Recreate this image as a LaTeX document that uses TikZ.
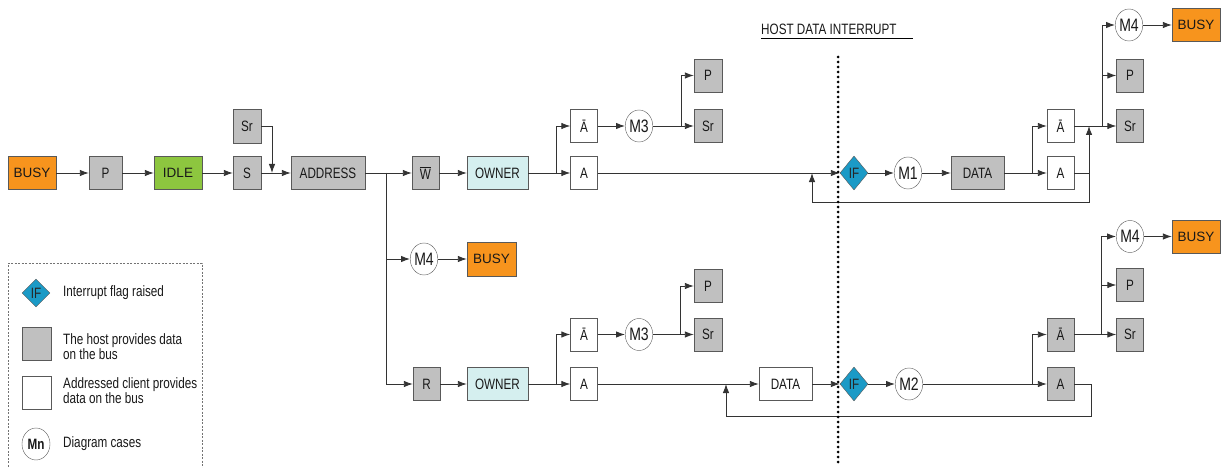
\documentclass[tikz,border=0pt]{standalone}
\usepackage{fontspec}
\setmainfont{Liberation Sans}[FakeStretch=0.78]
\newfontfamily\widefont{Liberation Sans}
\usetikzlibrary{arrows.meta,shapes.geometric}

\definecolor{busyorange}{HTML}{F7941D}
\definecolor{idlegreen}{HTML}{8DC63F}
\definecolor{hostgray}{HTML}{C0C0C0}
\definecolor{ownercyan}{HTML}{D5EFEF}
\definecolor{ifblue}{HTML}{1B9AC6}

\tikzset{
  blk/.style={draw=black!65, minimum width=27pt, minimum height=33pt, inner sep=0pt,
    text=black!90, font=\fontsize{15}{17}\selectfont},
  hostblk/.style={blk, fill=hostgray},
  clientblk/.style={blk, fill=white},
  busyblk/.style={blk, fill=busyorange, minimum width=48pt, font=\widefont\fontsize{13.5}{15}\selectfont},
  idleblk/.style={blk, fill=idlegreen, minimum width=48pt, font=\widefont\fontsize{13.5}{15}\selectfont},
  ownerblk/.style={blk, fill=ownercyan, minimum width=61pt},
  casenode/.style={ellipse, draw=black!65, fill=white, minimum width=27pt, minimum height=32pt,
    inner sep=0pt, text=black!90, font=\fontsize{18}{20}\selectfont},
  flag/.style={diamond, draw=black!65, fill=ifblue, minimum width=28pt, minimum height=34pt,
    inner sep=0pt, text=black!85, font=\fontsize{15}{17}\selectfont},
  link/.style={draw=black!80, line width=0.9pt, -{Latex[length=9pt,width=6.5pt]}},
  keytxt/.style={anchor=west, align=left, inner sep=2pt, text=black!90, font=\fontsize{15}{13}\selectfont}
}

\begin{document}
\begin{tikzpicture}[x=1pt,y=-1pt]
  \useasboundingbox (0,0) rectangle (1221,468);

  \node[busyblk] (busyA) at (32,173) {BUSY};
  \node[hostblk, minimum width=33pt] (pA) at (105.5,173) {P};
  \node[idleblk] (idle) at (178,173) {IDLE};
  \node[hostblk, minimum width=28pt] (sA) at (247,173) {S};
  \node[hostblk, minimum width=28pt, minimum height=34pt] (srA) at (247,126) {Sr};
  \node[hostblk, minimum width=74pt] (addr) at (328,173) {ADDRESS};
  \node[hostblk] (wbar) at (425.5,173) {$\overline{\mbox{W}}$};
  \node[ownerblk] (ownerA) at (497.5,173) {OWNER};
  \node[clientblk] (abarA) at (584,126) {Ā};
  \node[clientblk] (aA) at (584,173) {A};
  \node[casenode] (mA) at (639,126) {M3};
  \node[hostblk, minimum width=28pt] (pB) at (708,75.5) {P};
  \node[hostblk, minimum width=28pt] (srB) at (708,126) {Sr};
  \node[flag] (ifA) at (854,173) {IF};
  \node[casenode] (mOne) at (908,173) {M1};
  \node[hostblk, minimum width=53pt] (dataA) at (977.5,173) {DATA};
  \node[clientblk] (abarB) at (1060.5,126) {Ā};
  \node[clientblk] (aB) at (1060.5,173) {A};
  \node[casenode] (mFourA) at (1129,25) {M4};
  \node[busyblk] (busyB) at (1196,25) {BUSY};
  \node[hostblk] (pC) at (1130,75.5) {P};
  \node[hostblk] (srC) at (1130,126) {Sr};

  \node[casenode] (mFourB) at (424,259) {M4};
  \node[busyblk, minimum width=49pt, minimum height=34pt] (busyC) at (491.5,259) {BUSY};

  \node[hostblk] (rN) at (426.5,384) {R};
  \node[ownerblk] (ownerB) at (497.5,384) {OWNER};
  \node[clientblk] (abarC) at (584,334.5) {Ā};
  \node[clientblk] (aC) at (584,384) {A};
  \node[casenode] (mB) at (639,334.5) {M3};
  \node[hostblk, minimum width=28pt] (pD) at (708,286) {P};
  \node[hostblk, minimum width=28pt] (srD) at (708,334.5) {Sr};
  \node[clientblk, minimum width=53pt] (dataB) at (785.5,384) {DATA};
  \node[flag] (ifB) at (854,384) {IF};
  \node[casenode] (mTwo) at (909,384) {M2};
  \node[hostblk] (abarD) at (1060.5,334.5) {Ā};
  \node[hostblk] (aD) at (1060.5,384) {A};
  \node[casenode] (mFourC) at (1130,236.5) {M4};
  \node[busyblk] (busyD) at (1196,236.5) {BUSY};
  \node[hostblk] (pE) at (1130,285) {P};
  \node[hostblk] (srE) at (1130,334.5) {Sr};

  \coordinate (joinS) at (272,173);
  \coordinate (splitAddr) at (386,173);
  \coordinate (splitOwnA) at (556,173);
  \coordinate (splitMA) at (681,126);
  \coordinate (backA) at (812,173);
  \coordinate (splitDataA) at (1032,173);
  \coordinate (joinAB) at (1089,126);
  \coordinate (loopA) at (1089,202);
  \coordinate (splitAbarB) at (1102,126);
  \coordinate (splitOwnB) at (556,384);
  \coordinate (splitMB) at (680,334.5);
  \coordinate (backB) at (726,384);
  \coordinate (splitMTwo) at (1032,384);
  \coordinate (loopB) at (1091,416);
  \coordinate (splitAbarD) at (1101,334.5);

  \draw[link] (busyA) -- (pA);
  \draw[link] (pA) -- (idle);
  \draw[link] (idle) -- (sA);
  \draw[link] (sA) -- (addr);
  \draw[link] (srA) -| (joinS);
  \draw[link] (addr) -- (wbar);
  \draw[link] (splitAddr) |- (mFourB);
  \draw[link] (splitAddr) |- (rN);
  \draw[link] (wbar) -- (ownerA);
  \draw[link] (ownerA) -- (aA);
  \draw[link] (splitOwnA) |- (abarA);
  \draw[link] (abarA) -- (mA);
  \draw[link] (mA) -- (srB);
  \draw[link] (splitMA) |- (pB);
  \draw[link] (aA) -- (ifA);
  \draw[link] (ifA) -- (mOne);
  \draw[link] (mOne) -- (dataA);
  \draw[link] (dataA) -- (aB);
  \draw[link] (splitDataA) |- (abarB);
  \draw[link] (aB) -| (joinAB);
  \draw[link] (aB) -| (loopA) -| (backA);
  \draw[link] (abarB) -- (srC);
  \draw[link] (splitAbarB) |- (pC);
  \draw[link] (splitAbarB) |- (mFourA);
  \draw[link] (mFourA) -- (busyB);

  \draw[link] (mFourB) -- (busyC);

  \draw[link] (rN) -- (ownerB);
  \draw[link] (ownerB) -- (aC);
  \draw[link] (splitOwnB) |- (abarC);
  \draw[link] (abarC) -- (mB);
  \draw[link] (mB) -- (srD);
  \draw[link] (splitMB) |- (pD);
  \draw[link] (aC) -- (dataB);
  \draw[link] (dataB) -- (ifB);
  \draw[link] (ifB) -- (mTwo);
  \draw[link] (mTwo) -- (aD);
  \draw[link] (splitMTwo) |- (abarD);
  \draw[link] (aD) -| (loopB) -| (backB);
  \draw[link] (abarD) -- (srE);
  \draw[link] (splitAbarD) |- (pE);
  \draw[link] (splitAbarD) |- (mFourC);
  \draw[link] (mFourC) -- (busyD);

  \node[anchor=base west, inner sep=0pt, text=black!90, font=\fontsize{15}{17}\selectfont] (hdr) at (761,35) {HOST DATA INTERRUPT};
  \draw[line width=0.9pt] ([yshift=-3pt]hdr.south west) -- ++(152,0);
  \draw[line width=3pt, line cap=round, dash pattern=on 0pt off 5pt] (838,57) -- (838,466);

  \draw[black!55, line width=0.5pt, dash pattern=on 2pt off 1.5pt] (8,470) -- (8,263) -- (202,263) -- (202,470);
  \node[flag, minimum height=28pt] (keyFlag) at (36,293) {IF};
  \node[keytxt] (keyFlagTxt) at (61,293) {Interrupt flag raised};
  \node[hostblk, minimum width=29pt] (keyHost) at (36.5,343.5) {};
  \node[keytxt] (keyHostTxt) at (61,347) {The host provides data\\on the bus};
  \node[clientblk, minimum width=29pt] (keyClient) at (36.5,392.5) {};
  \node[keytxt] (keyClientTxt) at (61,391) {Addressed client provides\\data on the bus};
  \node[casenode, minimum width=28pt, font=\bfseries\fontsize{15}{17}\selectfont] (keyCase) at (36,444) {Mn};
  \node[keytxt] (keyCaseTxt) at (61,444) {Diagram cases};
\end{tikzpicture}
\end{document}
